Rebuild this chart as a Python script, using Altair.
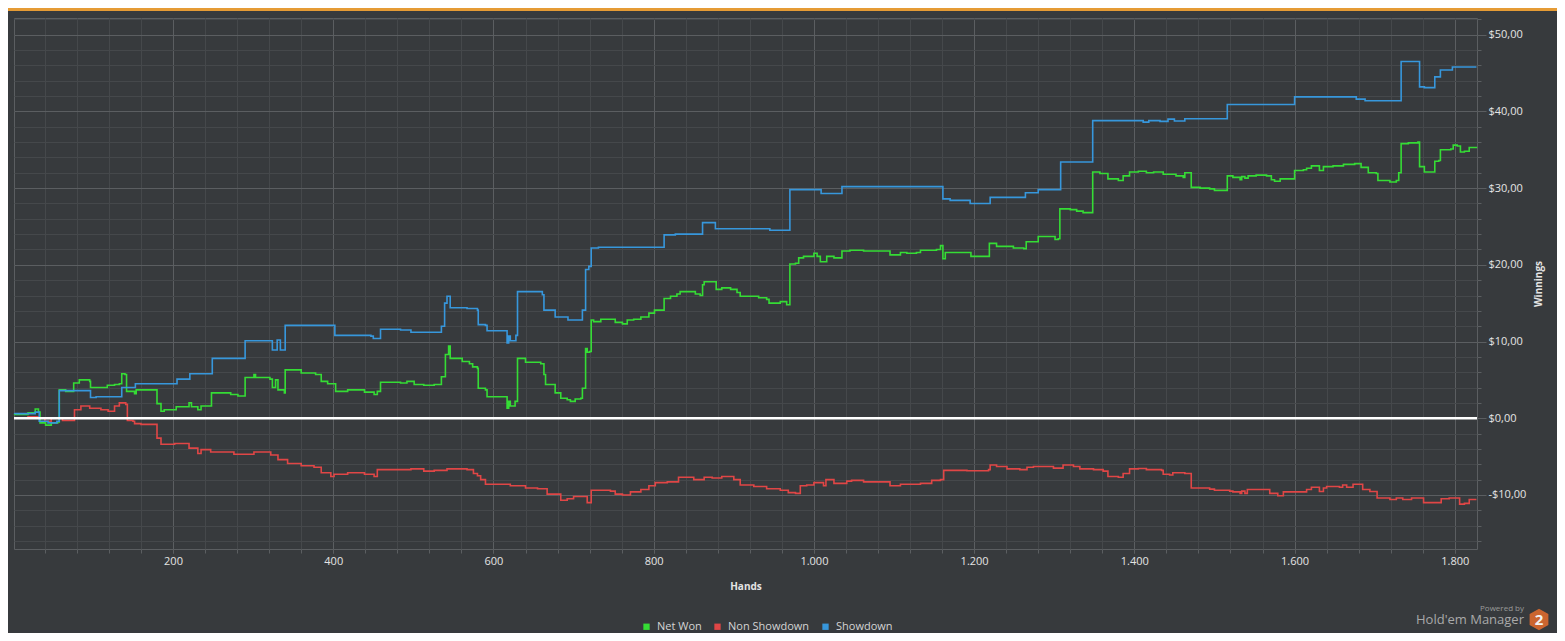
import altair as alt
import pandas as pd

# ---------------- data ----------------
series_names = ["Net Won", "Non Showdown", "Showdown"]
series_colors = ["#35dc35", "#e04646", "#3797dc"]

net_won_hands = [2, 19, 28, 32, 34, 41, 48, 56, 58, 66, 76, 83, 96, 97, 118, 127, 133, 136, 140, 142,
                 152, 154, 180, 185, 189, 204, 220, 223, 231, 235, 248, 272, 281, 290, 301, 303, 321, 324,
                 328, 331, 339, 340, 360, 378, 385, 393, 403, 418, 439, 451, 455, 459, 484, 492, 501, 513,
                 526, 535, 540, 544, 546, 561, 570, 574, 580, 581, 590, 592, 617, 619, 621, 627, 630, 640,
                 659, 663, 665, 677, 684, 692, 696, 702, 709, 711, 715, 717, 720, 722, 725, 734, 752, 761,
                 767, 775, 784, 794, 801, 813, 821, 829, 833, 852, 858, 861, 863, 878, 885, 896, 904, 908,
                 931, 941, 944, 958, 966, 970, 977, 981, 987, 1000, 1004, 1008, 1016, 1025, 1035, 1045,
                 1062, 1095, 1108, 1116, 1128, 1133, 1153, 1158, 1161, 1164, 1196, 1219, 1228, 1249, 1262,
                 1265, 1280, 1301, 1305, 1307, 1320, 1328, 1336, 1348, 1357, 1367, 1380, 1386, 1394, 1405,
                 1415, 1424, 1436, 1452, 1461, 1463, 1471, 1482, 1494, 1500, 1516, 1523, 1532, 1534, 1538,
                 1542, 1552, 1565, 1571, 1575, 1582, 1600, 1611, 1615, 1621, 1631, 1636, 1648, 1661, 1675,
                 1683, 1692, 1702, 1704, 1719, 1727, 1730, 1733, 1742, 1754, 1756, 1762, 1775, 1780, 1782,
                 1795, 1798, 1803, 1807, 1812, 1818, 1827]
net_won_values = [0.5, 0.7, 1.2, 0.8, -0.6, -0.9, -0.6, -0.5, 3.7, 3.5, 4.6, 5.0, 4.8, 4.0, 4.3, 4.4, 4.5,
                  5.8, 5.7, 3.5, 3.2, 3.7, 1.9, 0.9, 1.1, 1.5, 2.0, 1.5, 1.1, 1.6, 3.3, 3.1, 2.9, 5.3, 5.7,
                  5.3, 5.1, 4.0, 5.0, 3.7, 3.3, 6.3, 5.9, 5.7, 4.8, 4.5, 3.5, 3.7, 3.4, 3.1, 3.5, 4.7, 4.6,
                  4.8, 4.4, 4.3, 4.4, 5.4, 8.3, 9.4, 7.8, 7.4, 7.1, 6.7, 6.5, 3.9, 3.7, 2.8, 1.3, 2.2, 1.6,
                  2.2, 7.8, 7.3, 7.1, 5.7, 4.4, 3.3, 2.6, 2.4, 2.2, 2.5, 2.6, 3.9, 9.1, 8.6, 8.7, 12.8, 12.6,
                  12.9, 12.5, 12.3, 12.8, 12.9, 13.2, 13.7, 14.1, 15.6, 15.9, 16.2, 16.5, 16.2, 16.0, 17.4,
                  17.8, 16.8, 17.0, 16.8, 16.4, 15.9, 15.7, 15.5, 15.0, 15.2, 14.8, 20.1, 20.2, 20.9, 21.1,
                  21.5, 21.1, 20.4, 21.1, 20.9, 21.8, 21.9, 21.8, 21.3, 21.6, 21.5, 21.6, 21.9, 22.0, 22.5,
                  20.8, 21.6, 21.1, 22.8, 22.4, 22.2, 22.1, 23.0, 23.7, 23.3, 23.4, 27.3, 27.2, 27.0, 26.8,
                  32.1, 31.9, 31.2, 31.0, 31.6, 32.1, 32.2, 32.0, 32.1, 31.8, 31.6, 31.4, 32.0, 30.1, 30.0,
                  29.9, 29.7, 31.6, 31.4, 31.1, 31.5, 31.3, 31.6, 31.7, 31.6, 31.1, 30.9, 31.2, 32.3, 32.4,
                  32.6, 32.9, 32.3, 32.8, 32.9, 33.1, 33.2, 32.7, 32.0, 31.9, 31.0, 30.8, 31.0, 32.0, 35.8,
                  35.9, 36.0, 32.8, 32.1, 33.5, 33.6, 35.0, 35.1, 35.6, 35.5, 34.7, 34.8, 35.3, 35.4]

non_showdown_hands = [2, 19, 32, 40, 48, 62, 77, 85, 96, 110, 119, 127, 133, 141, 143, 150, 152, 160, 180,
                      185, 202, 220, 231, 235, 247, 276, 301, 322, 331, 343, 360, 376, 385, 397, 401, 418,
                      439, 451, 455, 484, 497, 513, 526, 542, 567, 575, 580, 584, 590, 621, 640, 655, 667,
                      684, 692, 700, 717, 722, 746, 752, 761, 771, 784, 794, 802, 817, 831, 850, 863, 873,
                      885, 900, 908, 925, 941, 958, 968, 977, 983, 991, 1000, 1012, 1015, 1025, 1041, 1047,
                      1062, 1095, 1108, 1133, 1147, 1158, 1162, 1191, 1218, 1220, 1228, 1241, 1257, 1266,
                      1274, 1299, 1311, 1324, 1332, 1349, 1361, 1367, 1380, 1386, 1394, 1405, 1415, 1434,
                      1436, 1444, 1448, 1463, 1471, 1494, 1500, 1519, 1523, 1532, 1534, 1538, 1541, 1569,
                      1579, 1586, 1615, 1621, 1631, 1636, 1640, 1656, 1660, 1665, 1673, 1685, 1694, 1703,
                      1719, 1727, 1735, 1746, 1761, 1783, 1793, 1806, 1812, 1818, 1827]
non_showdown_values = [0.0, 0.2, 0.0, -0.4, 0.0, -0.3, 1.1, 1.6, 1.3, 1.1, 0.9, 1.6, 2.0, 1.8, -0.3, -0.4,
                       -0.7, -0.8, -2.6, -3.4, -3.3, -3.9, -4.6, -4.1, -4.4, -4.7, -4.4, -4.8, -5.4, -5.9,
                       -6.2, -6.4, -7.1, -7.6, -7.3, -7.1, -7.3, -7.6, -6.7, -6.7, -6.6, -6.9, -6.8, -6.6,
                       -6.7, -7.2, -7.5, -8.0, -8.6, -8.8, -9.1, -9.2, -9.9, -10.7, -10.5, -10.2, -11.0,
                       -9.4, -9.5, -9.9, -10.0, -9.6, -9.3, -8.8, -8.4, -8.3, -7.7, -8.0, -7.7, -7.8, -7.6,
                       -8.0, -8.7, -8.9, -9.2, -9.4, -9.7, -9.8, -8.8, -8.7, -8.4, -8.8, -8.0, -8.5, -8.2,
                       -8.1, -8.3, -8.8, -8.6, -8.5, -8.1, -8.0, -6.8, -6.85, -6.7, -6.1, -6.3, -6.6, -6.7,
                       -6.4, -6.3, -6.5, -6.1, -6.3, -6.6, -6.7, -6.9, -7.6, -7.7, -7.2, -6.6, -6.55, -6.7,
                       -6.8, -7.3, -7.4, -7.1, -7.2, -9.1, -9.25, -9.4, -9.5, -9.6, -9.8, -9.5, -9.8, -9.3,
                       -9.8, -10.1, -9.6, -9.3, -9.0, -9.55, -9.1, -8.9, -9.0, -8.7, -9.0, -8.6, -9.3, -9.55,
                       -10.4, -10.6, -10.4, -10.6, -10.4, -11.0, -10.5, -10.4, -11.2, -11.1, -10.6, -10.6]

showdown_hands = [2, 28, 33, 44, 55, 58, 97, 104, 136, 153, 205, 221, 249, 290, 324, 330, 334, 340, 402,
                  447, 450, 459, 484, 497, 535, 539, 542, 546, 567, 580, 581, 590, 592, 617, 619, 621, 628,
                  630, 661, 663, 677, 693, 711, 715, 719, 722, 731, 813, 827, 861, 877, 945, 970, 1009, 1035,
                  1161, 1170, 1195, 1220, 1264, 1280, 1308, 1348, 1411, 1418, 1432, 1442, 1450, 1463, 1516,
                  1600, 1677, 1688, 1733, 1756, 1762, 1775, 1782, 1797, 1827]
showdown_values = [0.6, 0.8, -0.4, -0.6, -0.4, 3.6, 2.7, 2.8, 4.0, 4.5, 5.1, 5.8, 7.8, 10.1, 8.9, 10.2,
                   8.9, 12.1, 10.8, 10.7, 10.4, 11.6, 11.5, 11.2, 12.0, 15.0, 15.9, 14.4, 14.3, 14.1, 12.2,
                   12.1, 11.4, 9.8, 10.7, 10.1, 10.8, 16.5, 16.1, 14.1, 13.2, 12.8, 14.1, 19.4, 19.8, 22.2,
                   22.3, 23.9, 24.0, 25.5, 24.7, 24.5, 29.8, 29.3, 30.2, 28.6, 28.4, 28.0, 28.8, 29.4, 29.8,
                   33.4, 38.8, 38.6, 38.8, 38.7, 39.0, 38.75, 39.05, 40.9, 41.9, 41.6, 41.4, 46.5, 43.2,
                   43.1, 44.5, 45.4, 45.8, 45.8]

x_major_ticks = [200, 400, 600, 800, 1000, 1200, 1400, 1600, 1800]
x_minor_ticks = list(range(40, 1827, 40))
y_major_ticks = [-10, 0, 10, 20, 30, 40, 50]
y_minor_ticks = list(range(-16, 53, 2))

# ---------------- build table ----------------
rows = []
for name, hs, vs in [("Net Won", net_won_hands, net_won_values),
                     ("Non Showdown", non_showdown_hands, non_showdown_values),
                     ("Showdown", showdown_hands, showdown_values)]:
    for h, v in zip(hs, vs):
        rows.append({"hand": h, "value": v, "series": name})
df = pd.DataFrame(rows)
first_df = df.groupby("series", as_index=False).first()

BG = "#373a3d"
MINOR = "#45484b"
MAJOR = "#5b5e61"
TEXT = "#e4e4e4"
FONT = "Open Sans"
W, H = 1463, 531

x_scale = alt.Scale(domain=[1.5, 1827.7], nice=False, zero=False)
y_scale = alt.Scale(domain=[-17.05, 52.18], nice=False, zero=False)
color_scale = alt.Scale(domain=series_names, range=series_colors)

minor = alt.Chart(df).mark_line(strokeOpacity=0).encode(
    x=alt.X("hand:Q", scale=x_scale,
            axis=alt.Axis(orient="bottom", values=x_minor_ticks, labels=False, title=None,
                          domain=False, grid=True, gridColor=MINOR, tickColor=MAJOR, tickSize=4)),
    y=alt.Y("value:Q", scale=y_scale,
            axis=alt.Axis(orient="right", values=y_minor_ticks, labels=False, title=None,
                          domain=False, grid=True, gridColor=MINOR, tickColor=MAJOR, tickSize=4)),
)

lines = alt.Chart(df).mark_line(interpolate="step-after", strokeWidth=1.6).encode(
    x=alt.X("hand:Q", scale=x_scale,
            axis=alt.Axis(orient="bottom", values=x_major_ticks,
                          labelExpr="replace(format(datum.value, ','), ',', '.')",
                          title="Hands", titleX=W / 2, titleY=37, titleBaseline="middle",
                          domain=False, grid=True, gridColor=MAJOR, tickColor=MAJOR,
                          tickSize=4, labelPadding=2)),
    y=alt.Y("value:Q", scale=y_scale,
            axis=alt.Axis(orient="right", values=y_major_ticks,
                          labelExpr="(datum.value < 0 ? '-$' : '$') + replace(format(abs(datum.value), '.2f'), '.', ',')",
                          title="Winnings", titleAngle=270, titleX=61, titleY=H / 2,
                          titleBaseline="middle", titleAlign="center",
                          domain=False, grid=True, gridColor=MAJOR, tickColor=MAJOR,
                          tickSize=9, labelPadding=2)),
    color=alt.Color("series:N", scale=color_scale, legend=None),
)

# tiny squares hidden under the line starts; they carry the legend
keys = alt.Chart(first_df).mark_square(size=1, filled=True, opacity=1).encode(
    x=alt.X("hand:Q", scale=x_scale, axis=None),
    y=alt.Y("value:Q", scale=y_scale, axis=None),
    color=alt.Color("series:N", scale=color_scale,
                    legend=alt.Legend(orient="none", legendX=627, legendY=603,
                                      direction="horizontal", title=None,
                                      symbolType="square", symbolSize=40,
                                      symbolStrokeWidth=0, labelColor="#d4d4d4",
                                      labelFontSize=11, labelFont=FONT,
                                      columnPadding=10, labelOffset=5, padding=0)),
)

zero = alt.Chart(pd.DataFrame({"z": [0]})).mark_rule(color="#ffffff", strokeWidth=2.5).encode(
    y=alt.Y("z:Q", scale=y_scale, axis=None)
)

top_bar = alt.Chart(pd.DataFrame({"a": [0]})).mark_rule(color="#e59b35", strokeWidth=3).encode(
    x=alt.value(-6), x2=alt.value(W + 80), y=alt.value(-8.5)
)

logo_df = pd.DataFrame({"t": ["Powered by"], "u": ["Hold'em Manager"], "n": ["2"]})
powered = alt.Chart(logo_df).mark_text(align="right", baseline="middle", fontSize=8,
                                       color="#9a9a9a", font=FONT).encode(
    x=alt.value(1510), y=alt.value(591), text="t:N")
hm = alt.Chart(logo_df).mark_text(align="right", baseline="middle", fontSize=13,
                                  color="#a9a9a9", font=FONT).encode(
    x=alt.value(1510), y=alt.value(602), text="u:N")
hexagon = alt.Chart(logo_df).mark_point(
    shape="M0,-1L0.866,-0.5L0.866,0.5L0,1L-0.866,0.5L-0.866,-0.5Z",
    filled=True, color="#cb6530", size=470, opacity=1, strokeWidth=0).encode(
    x=alt.value(1525), y=alt.value(601.5))
two = alt.Chart(logo_df).mark_text(align="center", baseline="middle", fontSize=15,
                                   fontWeight="bold", color="#f2f2f2", font=FONT).encode(
    x=alt.value(1525), y=alt.value(602), text="n:N")

chart = alt.layer(minor, lines, keys, zero, top_bar, powered, hm, hexagon, two).resolve_axis(
    x="independent", y="independent"
).resolve_legend(
    color="independent"
).properties(
    width=W, height=H,
    padding={"left": 6, "top": 10, "right": 80, "bottom": 84},
    autosize=alt.AutoSizeParams(type="none"),
    background=BG,
).configure_view(
    stroke=MAJOR, strokeWidth=1
).configure_axis(
    labelFont=FONT, titleFont=FONT, labelColor=TEXT, titleColor=TEXT,
    labelFontSize=11, titleFontSize=10, titleFontWeight="bold",
    gridWidth=1, tickWidth=1
)

chart.save("out.html", embed_options={"renderer": "svg", "actions": False})
